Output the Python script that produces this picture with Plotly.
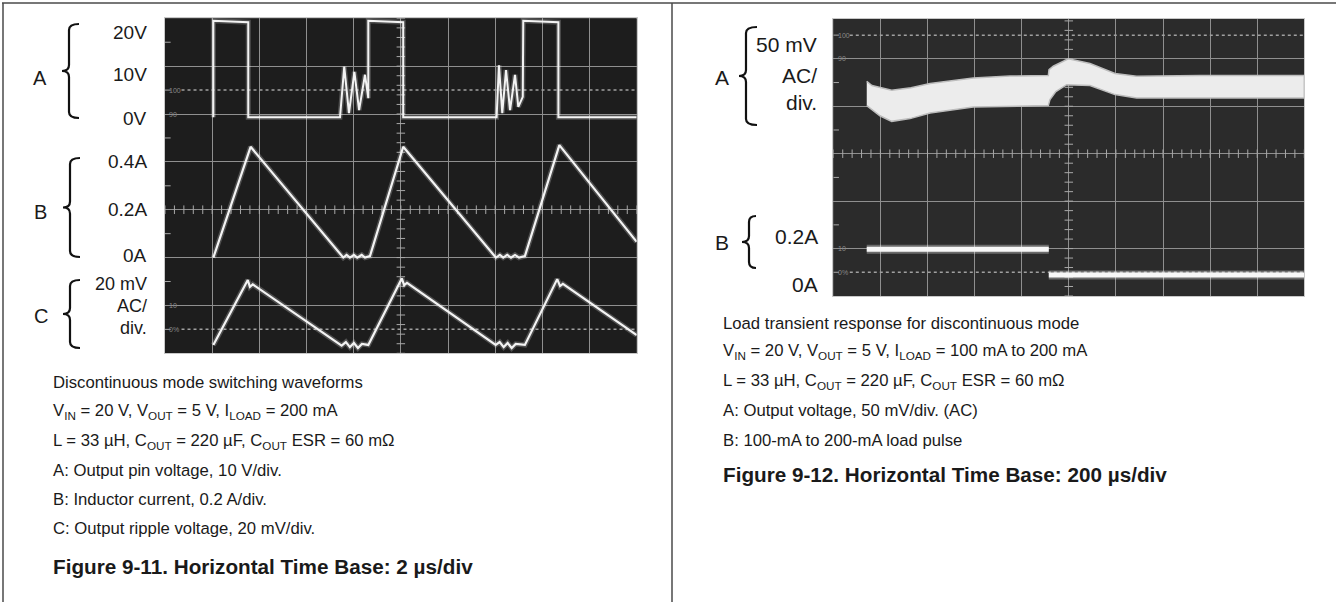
import plotly.graph_objects as go

W, H = 1336, 602


def px(x):
    return x / W


def py(y):
    return 1 - y / H


# ---------------- Figure 9-11 (2 us/div) ----------------
# Channel A: output pin voltage (V)
a_t = [2.05, 2.05, 3.53, 3.53, 7.42, 7.60, 7.80, 8.03, 8.23, 8.48, 8.62, 8.62,
       10.10, 10.10, 14.06, 14.16, 14.30, 14.46, 14.63, 14.84, 14.98, 15.17, 15.19,
       16.68, 16.68, 20.0]
a_v = [0.0, 20.2, 19.9, 0.0, 0.0, 10.6, 0.9, 9.5, 1.5, 8.9, 4.0, 20.2,
       19.9, 0.0, 0.0, 10.9, 0.9, 9.9, 1.5, 8.9, 2.2, 4.3, 20.2,
       19.9, 0.0, 0.0]
# Channel B: inductor current (A)
b_t = [2.05, 3.63, 7.56, 7.70, 7.84, 8.01, 8.15, 8.34, 8.48, 8.69, 10.10,
       14.03, 14.20, 14.34, 14.51, 14.67, 14.84, 15.01, 15.26, 16.72, 20.0]
b_i = [0.0, 0.463, 0.0, 0.011, 0.0, 0.011, 0.0, 0.011, 0.0, 0.006, 0.463,
       0.0, 0.011, 0.0, 0.011, 0.0, 0.011, 0.0, 0.006, 0.470, 0.066]
# Channel C: output ripple voltage (mV, AC)
c_t = [2.05, 3.51, 3.60, 3.72, 7.49, 7.67, 7.84, 8.01, 8.18, 8.35, 8.62,
       10.04, 10.14, 10.26, 14.02, 14.19, 14.36, 14.53, 14.70, 14.87, 15.26,
       16.63, 16.75, 16.87, 20.0]
c_v = [-16.5, 10.6, 7.8, 8.8, -16.8, -15.3, -17.4, -15.7, -17.8, -16.1, -16.5,
       11.3, 8.5, 9.4, -16.5, -15.3, -17.4, -15.7, -17.8, -16.1, -16.5,
       11.0, 8.1, 9.0, -12.4]

# ---------------- Figure 9-12 (200 us/div) ----------------
# Channel A: output voltage envelope (mV, AC)
ra_t_up = [142, 164, 248, 330, 411, 594, 750, 913, 916, 934, 998, 1090, 1196, 1288, 1557, 2000]
ra_up = [26.3, 21.8, 16.8, 19.5, 23.9, 29.9, 31.8, 32.4, 38.7, 42.2, 50.0, 45.0, 34.5, 31.6, 32.4, 32.4]
ra_t_lo = [142, 198, 248, 326, 411, 594, 913, 920, 945, 991, 1090, 1196, 1288, 2000]
ra_lo = [0.7, -10.0, -15.9, -13.0, -7.0, -0.7, 0.7, 7.0, 15.5, 22.8, 21.8, 12.3, 8.8, 8.8]
# Channel B: load current (mA)
rb_t = [142, 915, 915, 2000]
rb_i = [200, 200, 100, 100]

# channel position / scale (divisions)
A_POS, A_SCALE = 4.93, 10.0
B_POS, B_SCALE = 2.0, 0.2
C_POS, C_SCALE = 1.0, 20.0
RA_POS, RA_SCALE = 4.0, 50.0
RB_POS, RB_SCALE = -0.098, 184.5

TRACE = "#f3f3f3"
GLOW = "rgba(255,255,255,0.22)"
GRID = "#8f8f8f"
TXT = "#1a1a1a"
FONT = "Arial, Liberation Sans, Helvetica, sans-serif"

fig = go.Figure()


def add_line(x, y, xa, ya, width=2.0):
    fig.add_trace(go.Scatter(x=x, y=y, xaxis=xa, yaxis=ya, mode="lines",
                             line=dict(color=GLOW, width=width + 3),
                             hoverinfo="skip", showlegend=False))
    fig.add_trace(go.Scatter(x=x, y=y, xaxis=xa, yaxis=ya, mode="lines",
                             line=dict(color=TRACE, width=width),
                             hoverinfo="skip", showlegend=False))


def graticule(xa, ya, xunit, ymax):
    xs, ys = [], []
    n = int(ymax / 0.2) + 1
    for k in range(n):
        y = k * 0.2
        xs += [(5 - 0.09) * xunit, (5 + 0.09) * xunit, None]
        ys += [y, y, None]
    for k in range(51):
        x = k * 0.2 * xunit
        xs += [x, x, None]
        ys += [3 - 0.09, 3 + 0.09, None]
    y = 0.5
    while y < ymax:
        xs += [0, 0.12 * xunit, None]
        ys += [y, y, None]
        y += 1
    fig.add_trace(go.Scatter(x=xs, y=ys, xaxis=xa, yaxis=ya, mode="lines",
                             line=dict(color="#a8a8a8", width=1),
                             hoverinfo="skip", showlegend=False))
    fig.add_trace(go.Scatter(x=[0.35 * xunit, 10 * xunit, None, 0.35 * xunit, 10 * xunit],
                             y=[0.5, 0.5, None, 5.5, 5.5], xaxis=xa, yaxis=ya, mode="lines",
                             line=dict(color="#a0a0a0", width=1.5, dash="dot"),
                             hoverinfo="skip", showlegend=False))


graticule("x", "y", 2.0, 7.0)
graticule("x2", "y2", 200.0, 5.84)

# Figure 9-11 traces
add_line(a_t, [A_POS + v / A_SCALE for v in a_v], "x", "y", 2.0)
add_line(b_t, [B_POS + v / B_SCALE for v in b_i], "x", "y", 2.2)
add_line(c_t, [C_POS + v / C_SCALE for v in c_v], "x", "y", 2.2)

# Figure 9-12 traces
band_x = ra_t_up + ra_t_lo[::-1]
band_y = [RA_POS + v / RA_SCALE for v in ra_up] + [RA_POS + v / RA_SCALE for v in ra_lo[::-1]]
fig.add_trace(go.Scatter(x=band_x, y=band_y, xaxis="x2", yaxis="y2", mode="lines",
                         fill="toself", fillcolor="#ececec",
                         line=dict(color="#bdbdbd", width=1.5),
                         hoverinfo="skip", showlegend=False))
rb_x = [rb_t[0], rb_t[1], None, rb_t[2], rb_t[3]]
rb_y = [RB_POS + rb_i[0] / RB_SCALE, RB_POS + rb_i[1] / RB_SCALE, None,
        RB_POS + rb_i[2] / RB_SCALE, RB_POS + rb_i[3] / RB_SCALE]
fig.add_trace(go.Scatter(x=rb_x, y=rb_y, xaxis="x2", yaxis="y2", mode="lines",
                         line=dict(color="rgba(255,255,255,0.3)", width=9),
                         hoverinfo="skip", showlegend=False))
fig.add_trace(go.Scatter(x=rb_x, y=rb_y, xaxis="x2", yaxis="y2", mode="lines",
                         line=dict(color="#f7f7f7", width=5),
                         hoverinfo="skip", showlegend=False))

axis_common = dict(showgrid=True, gridcolor=GRID, gridwidth=1, showticklabels=False,
                   ticks="", zeroline=False, showline=True, linecolor="#c8c8c8",
                   linewidth=1, mirror=True, fixedrange=True)

fig.update_layout(
    width=W, height=H,
    margin=dict(l=0, r=0, t=0, b=0),
    paper_bgcolor="white",
    plot_bgcolor="#242424",
    showlegend=False,
    xaxis=dict(domain=[px(165), px(636.7)], range=[0, 20], dtick=2, tick0=0, anchor="y", **axis_common),
    yaxis=dict(domain=[py(353.3), py(18.3)], range=[0, 7], dtick=1, tick0=0, anchor="x", **axis_common),
    xaxis2=dict(domain=[px(833.3), px(1304.3)], range=[0, 2000], dtick=200, tick0=0, anchor="y2", **axis_common),
    yaxis2=dict(domain=[py(296), py(19)], range=[0, 5.84], dtick=1, tick0=0, anchor="x2", **axis_common),
)

shapes = []
# scope backgrounds
shapes.append(dict(type="rect", xref="x", yref="y", x0=0, x1=20, y0=0, y1=7,
                   fillcolor="#1d1d1d", line=dict(width=0), layer="below"))
shapes.append(dict(type="rect", xref="x2", yref="y2", x0=0, x1=2000, y0=0, y1=5.84,
                   fillcolor="#2b2b2b", line=dict(width=0), layer="below"))
# table borders
border = dict(color="#4a4a4a", width=1.5)
shapes.append(dict(type="line", xref="paper", yref="paper", x0=px(2), x1=1, y0=py(3), y1=py(3), line=border))
shapes.append(dict(type="line", xref="paper", yref="paper", x0=px(3), x1=px(3), y0=py(3), y1=0, line=border))
shapes.append(dict(type="line", xref="paper", yref="paper", x0=px(672), x1=px(672), y0=py(3), y1=0, line=border))


def brace(xt, xm, xr, yt, yb):
    ym = (yt + yb) / 2
    c = 6

    def P(x, y):
        return f"{px(x):.5f},{py(y):.5f}"
    path = (f"M {P(xr, yt)} Q {P(xm, yt)} {P(xm, yt + c)} L {P(xm, ym - c)} "
            f"Q {P(xm, ym)} {P(xt, ym)} Q {P(xm, ym)} {P(xm, ym + c)} "
            f"L {P(xm, yb - c)} Q {P(xm, yb)} {P(xr, yb)}")
    return dict(type="path", xref="paper", yref="paper", path=path,
                line=dict(color="#111111", width=2.2))


shapes.append(brace(62, 69, 79, 24, 118))
shapes.append(brace(63, 70, 80, 158, 257))
shapes.append(brace(63, 70, 80, 280, 348))
shapes.append(brace(739, 746, 757, 27, 125))
shapes.append(brace(742, 749, 756, 216, 268))
fig.update_layout(shapes=shapes)

ann = []


def label(text, x, y, size, anchor="right", bold=False, color=TXT):
    ann.append(dict(text=(f"<b>{text}</b>" if bold else text), x=px(x), y=py(y),
                    xref="paper", yref="paper", xanchor=anchor, yanchor="middle",
                    showarrow=False, font=dict(family=FONT, size=size, color=color)))


# Figure 9-11 channel labels
label("A", 40, 78, 20, "center")
label("20V", 149, 32, 19)
label("10V", 149, 74, 19)
label("0V", 149, 118, 19)
label("B", 40, 212, 20, "center")
label("0.4A", 149, 161, 19)
label("0.2A", 149, 210, 19)
label("0A", 149, 255, 19)
label("C", 41, 316, 20, "center")
label("20 mV", 149, 284, 18)
label("AC/", 149, 306, 18)
label("div.", 149, 328, 18)

# Figure 9-12 channel labels
label("A", 722, 78, 21, "center")
label("50 mV", 819, 45, 21)
label("AC/", 819, 76, 21)
label("div.", 819, 103, 21)
label("B", 722, 242, 21, "center")
label("0.2A", 820, 237, 21)
label("0A", 820, 284, 21)

# Graticule markings
for (xa, ya, xu) in (("x", "y", 2.0), ("x2", "y2", 200.0)):
    for txt, yv in (("100", 5.5), ("90", 5.0), ("10", 1.0), ("0%", 0.5)):
        ann.append(dict(text=txt, x=0.05 * xu, y=yv, xref=xa, yref=ya, xanchor="left",
                        yanchor="middle", showarrow=False,
                        font=dict(family=FONT, size=7, color="#8a8a8a")))

# Caption text, Figure 9-11
left_lines = [
    "Discontinuous mode switching waveforms",
    "V<sub>IN</sub> = 20 V, V<sub>OUT</sub> = 5 V, I<sub>LOAD</sub> = 200 mA",
    "L = 33 µH, C<sub>OUT</sub> = 220 µF, C<sub>OUT</sub> ESR = 60 mΩ",
    "A: Output pin voltage, 10 V/div.",
    "B: Inductor current, 0.2 A/div.",
    "C: Output ripple voltage, 20 mV/div.",
]
left_y = [382, 411, 441, 470, 499, 528]
for t, y in zip(left_lines, left_y):
    label(t, 51, y, 16.7, "left")
label("Figure 9-11. Horizontal Time Base: 2 µs/div", 51, 566, 20.7, "left", bold=True)

# Caption text, Figure 9-12
right_lines = [
    "Load transient response for discontinuous mode",
    "V<sub>IN</sub> = 20 V, V<sub>OUT</sub> = 5 V, I<sub>LOAD</sub> = 100 mA to 200 mA",
    "L = 33 µH, C<sub>OUT</sub> = 220 µF, C<sub>OUT</sub> ESR = 60 mΩ",
    "A: Output voltage, 50 mV/div. (AC)",
    "B: 100-mA to 200-mA load pulse",
]
right_y = [323, 351, 381, 410, 440]
for t, y in zip(right_lines, right_y):
    label(t, 721, y, 16.7, "left")
label("Figure 9-12. Horizontal Time Base: 200 µs/div", 721, 474, 20.7, "left", bold=True)

fig.update_layout(annotations=ann)

fig.write_html("out.html", config={"displayModeBar": False},
               post_script="document.body.style.margin='0px';document.body.style.padding='0px';")
